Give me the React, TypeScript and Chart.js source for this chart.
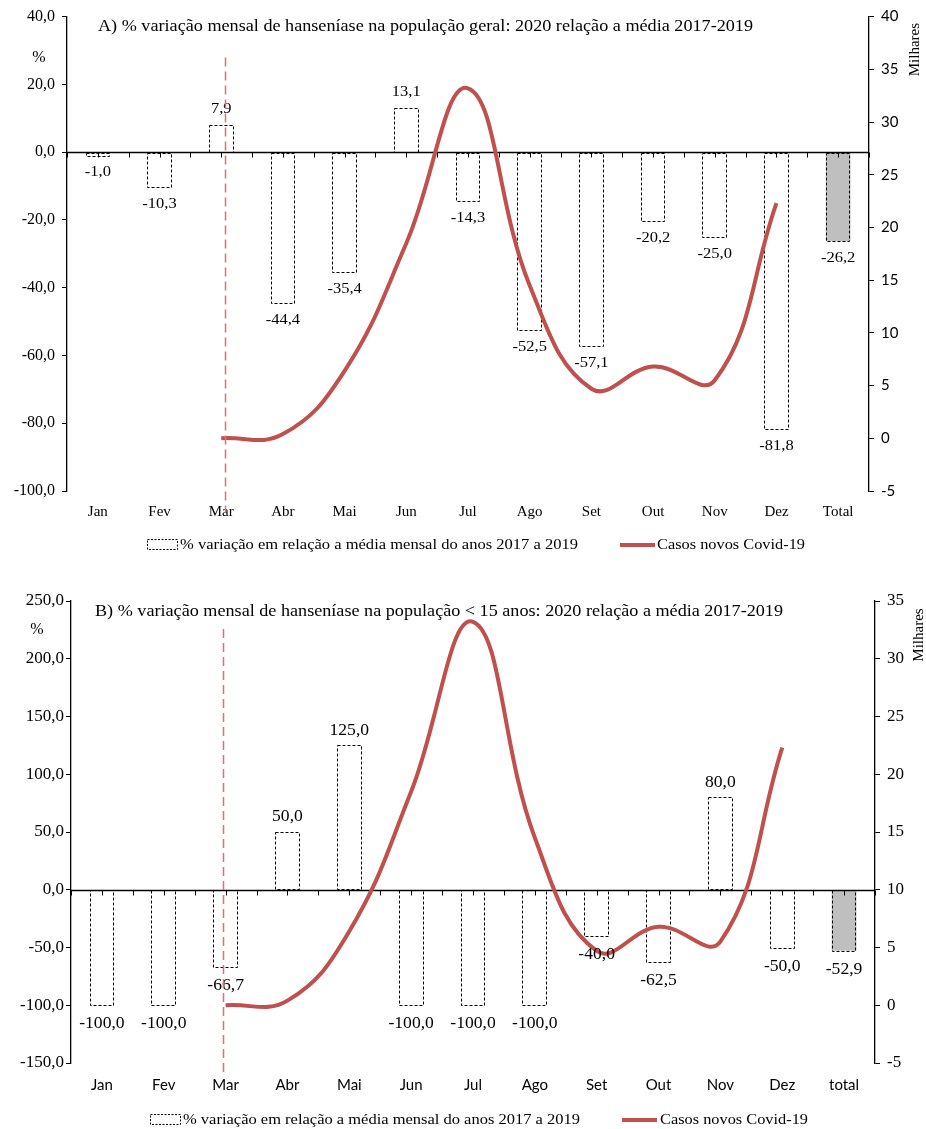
import React, { useEffect, useRef } from 'react';
import { Chart, registerables } from 'chart.js';

Chart.register(...registerables);

// ---------------- data ----------------
const categoriasA = ['Jan', 'Fev', 'Mar', 'Abr', 'Mai', 'Jun', 'Jul', 'Ago', 'Set', 'Out', 'Nov', 'Dez', 'Total'];
const categoriasB = ['Jan', 'Fev', 'Mar', 'Abr', 'Mai', 'Jun', 'Jul', 'Ago', 'Set', 'Out', 'Nov', 'Dez', 'total'];

// % variação em relação à média mensal 2017-2019
const variacaoGeral = [-1.0, -10.3, 7.9, -44.4, -35.4, 13.1, -14.3, -52.5, -57.1, -20.2, -25.0, -81.8, -26.2];
const variacaoMenor15 = [-100.0, -100.0, -66.7, 50.0, 125.0, -100.0, -100.0, -100.0, -40.0, -62.5, 80.0, -50.0, -52.9];

// Casos novos Covid-19 (milhares)
const casosCovid = [null, null, 0, 0.4, 6.4, 18.5, 33.2, 14.5, 4.7, 6.8, 5.5, 22.3, null];

// axis ranges [min, max, step]
const eixoPercA = [-100, 40, 20];
const eixoMilA = [-5, 40, 5];
const eixoPercB = [-150, 250, 50];
const eixoMilB = [-5, 35, 5];

const tituloA = 'A) % variação mensal de hanseníase na população geral: 2020 relação a média 2017-2019';
const tituloB = 'B) % variação mensal de hanseníase na população < 15 anos: 2020 relação a média 2017-2019';
const legendaBarras = '% variação em relação a média mensal do anos 2017 a 2019';
const legendaLinha = 'Casos novos Covid-19';
const marcoMes = 'Mar';

// ---------------- styles ----------------
const SERIF = "'Liberation Serif', 'Times New Roman', serif";
const SANS = "Lato, 'Liberation Sans', sans-serif";
const RED = '#c0504d';
const DASH_RED = '#e07070';
const GREY = '#bfbfbf';

const fmt1 = (v: number) => v.toFixed(1).replace('.', ',');

function drawStretch(ctx: CanvasRenderingContext2D, text: string, x: number, y: number, sx: number, align: 'left' | 'center') {
  ctx.save();
  ctx.translate(x, y);
  ctx.scale(sx, 1);
  ctx.textAlign = align;
  ctx.fillText(text, 0, 0);
  ctx.restore();
}

function drawFit(ctx: CanvasRenderingContext2D, text: string, x: number, y: number, width: number) {
  const w = ctx.measureText(text).width;
  drawStretch(ctx, text, x, y, width / w, 'left');
}

type Style = {
  titulo: string;
  titleDx: number; titleDy: number; titleW: number; titleFont: number;
  pctDx: number; pctDy: number;
  milDx: number; milDy: number;
  markOffset: number; markTop: number; markBottom: number;
  labelPos: number; labelNeg: number; labelFont: number; labelSx: number;
  legendY: number; legBox: number; legText1: number; legText1W: number; legLine: number; legText2: number; legText2W: number;
};

function makePlugin(st: Style) {
  return {
    id: 'custom-' + st.titulo.slice(0, 1),
    afterDatasetDraw(chart: any, args: any) {
      if (args.meta.type !== 'bar') return;
      const ctx: CanvasRenderingContext2D = chart.ctx;
      const meta = args.meta;
      ctx.save();
      // dashed bar outlines
      ctx.strokeStyle = '#000';
      ctx.lineWidth = 1;
      ctx.setLineDash([3, 2]);
      meta.data.forEach((el: any) => {
        const p = el.getProps(['x', 'y', 'base', 'width'], true);
        const l = Math.round(p.x - p.width / 2) + 0.5;
        const r = Math.round(p.x + p.width / 2) - 0.5;
        const t = Math.round(Math.min(p.y, p.base)) + 0.5;
        const b = Math.round(Math.max(p.y, p.base)) + 0.5;
        ctx.strokeRect(l, t, r - l, b - t);
      });
      ctx.setLineDash([]);
      // zero axis line with ticks
      const xs = chart.scales.x;
      const y0 = Math.round(chart.scales.y.getPixelForValue(0)) + 0.5;
      const area = chart.chartArea;
      ctx.lineWidth = 1.3;
      ctx.beginPath();
      ctx.moveTo(area.left, y0);
      ctx.lineTo(area.right, y0);
      ctx.stroke();
      ctx.lineWidth = 1;
      const n = xs.getLabels().length;
      ctx.beginPath();
      for (let i = 0; i <= n; i++) {
        const xb = Math.round(xs.getPixelForValue(i - 0.5)) + 0.5;
        ctx.moveTo(xb, y0);
        ctx.lineTo(xb, y0 + 5);
        if (i < n) {
          const xc = Math.round(xs.getPixelForValue(i)) + 0.5;
          ctx.moveTo(xc, y0);
          ctx.lineTo(xc, y0 + 5);
        }
      }
      ctx.stroke();
      ctx.restore();
    },
    afterDatasetsDraw(chart: any) {
      const ctx: CanvasRenderingContext2D = chart.ctx;
      const area = chart.chartArea;
      const xs = chart.scales.x;
      ctx.save();
      // data labels
      const barMeta = chart.getDatasetMeta(1);
      const vals = chart.data.datasets[1].data as number[];
      ctx.fillStyle = '#000';
      ctx.font = `${st.labelFont}px ${SERIF}`;
      ctx.textBaseline = 'middle';
      barMeta.data.forEach((el: any, i: number) => {
        const p = el.getProps(['x', 'y'], true);
        const v = vals[i];
        const y = v >= 0 ? p.y + st.labelPos : p.y + st.labelNeg;
        drawStretch(ctx, fmt1(v), p.x, y, st.labelSx, 'center');
      });
      // vertical dashed marker at Mar
      const idx = xs.getLabels().indexOf(marcoMes);
      const mx = Math.round(xs.getPixelForValue(idx + st.markOffset)) + 0.5;
      ctx.strokeStyle = DASH_RED;
      ctx.lineWidth = 1.5;
      ctx.setLineDash([9, 5]);
      ctx.beginPath();
      ctx.moveTo(mx, area.top + st.markTop);
      ctx.lineTo(mx, area.bottom + st.markBottom);
      ctx.stroke();
      ctx.setLineDash([]);
      ctx.restore();
    },
    afterDraw(chart: any) {
      const ctx: CanvasRenderingContext2D = chart.ctx;
      const area = chart.chartArea;
      ctx.save();
      ctx.fillStyle = '#000';
      ctx.textBaseline = 'middle';
      // title
      ctx.font = `${st.titleFont}px ${SERIF}`;
      drawFit(ctx, st.titulo, area.left + st.titleDx, area.top + st.titleDy, st.titleW);
      // % label
      ctx.font = `16px ${SERIF}`;
      ctx.textAlign = 'center';
      ctx.fillText('%', area.left + st.pctDx, area.top + st.pctDy);
      // Milhares
      ctx.save();
      ctx.translate(area.right + st.milDx, area.top + st.milDy);
      ctx.rotate(-Math.PI / 2);
      ctx.font = `15px ${SERIF}`;
      ctx.textAlign = 'center';
      ctx.fillText('Milhares', 0, 0);
      ctx.restore();
      // legend
      const ly = st.legendY;
      ctx.strokeStyle = '#000';
      ctx.lineWidth = 1;
      ctx.setLineDash([2, 1.5]);
      ctx.strokeRect(st.legBox + 0.5, ly - 5.5, 30, 10);
      ctx.setLineDash([]);
      ctx.font = `14px ${SERIF}`;
      drawFit(ctx, legendaBarras, st.legText1, ly, st.legText1W);
      ctx.strokeStyle = RED;
      ctx.lineWidth = 4;
      ctx.beginPath();
      ctx.moveTo(st.legLine, ly);
      ctx.lineTo(st.legLine + 35, ly);
      ctx.stroke();
      drawFit(ctx, legendaLinha, st.legText2, ly, st.legText2W);
      ctx.restore();
    },
  };
}

type AxisSpec = {
  labels: string[]; bars: number[]; left: number[]; right: number[];
  padTop: number; padBottom: number; leftW: number; rightW: number;
  xFont: any; rightFont: any; leftFont: any; leftPad: number; xPad: number;
};

function makeConfig(a: AxisSpec, st: Style): any {
  return {
    type: 'bar',
    data: {
      labels: a.labels,
      datasets: [
        {
          type: 'line',
          label: legendaLinha,
          data: casosCovid,
          yAxisID: 'y1',
          borderColor: RED,
          borderWidth: 4,
          pointRadius: 0,
          tension: 0.42,
          fill: false,
          order: 0,
        },
        {
          type: 'bar',
          label: legendaBarras,
          data: a.bars,
          yAxisID: 'y',
          backgroundColor: a.bars.map((_, i) => (i === a.bars.length - 1 ? GREY : '#ffffff')),
          borderWidth: 0,
          barPercentage: 0.4,
          categoryPercentage: 1.0,
          order: 1,
        },
      ],
    },
    options: {
      animation: false,
      responsive: true,
      maintainAspectRatio: false,
      layout: { padding: { top: a.padTop, bottom: a.padBottom, left: 0, right: 0 } },
      plugins: { legend: { display: false }, tooltip: { enabled: false }, title: { display: false } },
      scales: {
        x: {
          type: 'category',
          offset: true,
          grid: { display: false, drawTicks: false },
          border: { display: false },
          ticks: { font: a.xFont, color: '#000', padding: a.xPad, maxRotation: 0, autoSkip: false },
          afterFit: (s: any) => { s.height = 36; },
        },
        y: {
          position: 'left',
          min: a.left[0], max: a.left[1],
          ticks: { stepSize: a.left[2], callback: (v: number) => fmt1(v), font: a.leftFont, color: '#000', padding: a.leftPad },
          grid: { display: true, drawOnChartArea: false, drawTicks: true, tickLength: 5, color: '#000' },
          border: { display: true, color: '#000', width: 1.3 },
          afterFit: (s: any) => { s.width = a.leftW; },
        },
        y1: {
          position: 'right',
          min: a.right[0], max: a.right[1],
          ticks: { stepSize: a.right[2], callback: (v: number) => String(v), font: a.rightFont, color: '#000', padding: 7 },
          grid: { display: true, drawOnChartArea: false, drawTicks: true, tickLength: 5, color: '#000' },
          border: { display: true, color: '#000', width: 1.3 },
          afterFit: (s: any) => { s.width = a.rightW; },
        },
      },
    },
    plugins: [makePlugin(st)],
  };
}

const styleA: Style = {
  titulo: tituloA, titleDx: 31, titleDy: 10, titleW: 655, titleFont: 17,
  pctDx: -28, pctDy: 41, milDx: 46, milDy: 33,
  markOffset: 0.06, markTop: 41, markBottom: 21,
  labelPos: -16, labelNeg: 17, labelFont: 15, labelSx: 1.1,
  legendY: 545, legBox: 147, legText1: 180, legText1W: 398, legLine: 620, legText2: 657, legText2W: 148,
};
const styleB: Style = {
  titulo: tituloB, titleDx: 24, titleDy: 11, titleW: 688, titleFont: 17,
  pctDx: -34, pctDy: 29, milDx: 44, milDy: 34,
  markOffset: -0.04, markTop: 28, markBottom: 9,
  labelPos: -15, labelNeg: 19, labelFont: 16, labelSx: 1.1,
  legendY: 1120 - 570, legBox: 150, legText1: 183, legText1W: 397, legLine: 622, legText2: 660, legText2W: 148,
};

const axisA: AxisSpec = {
  labels: categoriasA, bars: variacaoGeral, left: eixoPercA, right: eixoMilA,
  padTop: 16, padBottom: 43, leftW: 67, rightW: 57,
  xFont: { family: SERIF, size: 15 }, rightFont: { family: SANS, size: 15 }, leftFont: { family: SERIF, size: 16 },
  leftPad: 7, xPad: 12,
};
const axisB: AxisSpec = {
  labels: categoriasB, bars: variacaoMenor15, left: eixoPercB, right: eixoMilB,
  padTop: 31, padBottom: 30, leftW: 71, rightW: 51,
  xFont: { family: SANS, size: 15 }, rightFont: { family: SERIF, size: 17 }, leftFont: { family: SERIF, size: 17 },
  leftPad: 2, xPad: 13,
};

function ChartBox({ axis, st, top, height }: { axis: AxisSpec; st: Style; top: number; height: number }) {
  const ref = useRef<HTMLCanvasElement | null>(null);
  useEffect(() => {
    if (!ref.current) return;
    const chart = new Chart(ref.current, makeConfig(axis, st));
    return () => chart.destroy();
  }, []);
  return (
    <div style={{ position: 'absolute', left: 0, top, width: 926, height }}>
      <canvas ref={ref} />
    </div>
  );
}

export default function App() {
  return (
    <div style={{ position: 'absolute', left: 0, top: 0, width: 926, height: 1129, background: '#fff', overflow: 'hidden' }}>
      <ChartBox axis={axisA} st={styleA} top={0} height={570} />
      <ChartBox axis={axisB} st={styleB} top={570} height={559} />
    </div>
  );
}
